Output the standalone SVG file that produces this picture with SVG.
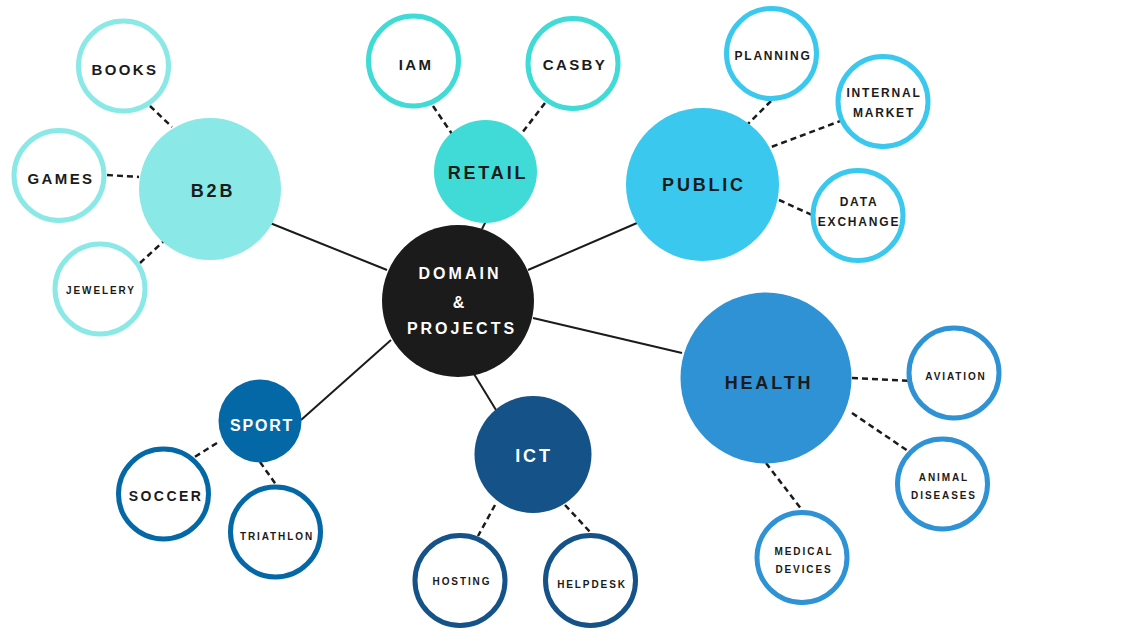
<svg xmlns="http://www.w3.org/2000/svg" width="1144" height="643" viewBox="0 0 1144 643">
<style>
text{font-family:"Liberation Sans",Arial,sans-serif;font-weight:bold;fill:#1b1b1b;text-anchor:middle;dominant-baseline:central}
.w{fill:#ffffff}
.big{font-size:18px;letter-spacing:2.8px}
.l15{font-size:15px;letter-spacing:2.4px}
.l12{font-size:12px;letter-spacing:1.8px}
.l10{font-size:10px;letter-spacing:1.9px}
.leaf{fill:#ffffff;stroke-width:5}
.solid{stroke:#1b1b1b;stroke-width:2;fill:none}
.dash{stroke:#1b1b1b;stroke-width:2.5;stroke-dasharray:6 4;fill:none}
</style>
<rect width="1144" height="643" fill="#ffffff"/>
<g id="connectors">
<line class="solid" x1="270" y1="223" x2="387" y2="270"/>
<line class="solid" x1="486" y1="221" x2="482" y2="229"/>
<line class="solid" x1="637" y1="223" x2="528" y2="270"/>
<line class="solid" x1="533" y1="318" x2="682" y2="353"/>
<line class="solid" x1="474" y1="374" x2="496" y2="410"/>
<line class="solid" x1="301" y1="420" x2="391" y2="340"/>
<line class="dash" x1="150" y1="106" x2="172" y2="127"/>
<line class="dash" x1="107" y1="175" x2="139" y2="177"/>
<line class="dash" x1="140" y1="263" x2="164" y2="241"/>
<line class="dash" x1="433" y1="106" x2="452" y2="134"/>
<line class="dash" x1="545" y1="103" x2="522" y2="133"/>
<line class="dash" x1="771" y1="101" x2="745" y2="127"/>
<line class="dash" x1="843" y1="120" x2="766" y2="149"/>
<line class="dash" x1="779" y1="200" x2="812" y2="215"/>
<line class="dash" x1="852" y1="378" x2="912" y2="381"/>
<line class="dash" x1="852" y1="413" x2="908" y2="451"/>
<line class="dash" x1="766" y1="463" x2="802" y2="510"/>
<line class="dash" x1="495" y1="505" x2="478" y2="536"/>
<line class="dash" x1="565" y1="505" x2="591" y2="533"/>
<line class="dash" x1="217" y1="443" x2="193" y2="458"/>
<line class="dash" x1="260" y1="462" x2="277" y2="486"/>
</g>
<g id="domain"><circle cx="458" cy="301" r="76" fill="#1b1b1b"/><text class="w" x="460" y="273" style="font-size:16px;letter-spacing:3px">DOMAIN</text><text class="w" x="460" y="302" style="font-size:16px;letter-spacing:3px">&amp;</text><text class="w" x="462" y="328" style="font-size:16px;letter-spacing:3px">PROJECTS</text></g>
<g id="b2b"><circle cx="210" cy="189" r="71" fill="#8ae8e6"/><text class="big" x="213" y="191">B2B</text></g>
<g id="books"><circle class="leaf" cx="123.5" cy="66" r="45" stroke="#8ae8e6"/><text class="l15" x="125" y="69">BOOKS</text></g>
<g id="games"><circle class="leaf" cx="59" cy="175.5" r="45" stroke="#8ae8e6"/><text class="l15" x="61" y="178">GAMES</text></g>
<g id="jewelery"><circle class="leaf" cx="100" cy="289" r="45" stroke="#8ae8e6"/><text class="l10" x="101" y="290">JEWELERY</text></g>
<g id="retail"><circle cx="485.5" cy="171.5" r="51.5" fill="#40dbd6"/><text class="big" x="488" y="173">RETAIL</text></g>
<g id="iam"><circle class="leaf" cx="413.5" cy="61" r="45" stroke="#40dbd6"/><text class="l15" x="416" y="64">IAM</text></g>
<g id="casby"><circle class="leaf" cx="573" cy="63.5" r="45" stroke="#40dbd6"/><text class="l15" x="575" y="64">CASBY</text></g>
<g id="public"><circle cx="702.5" cy="184.5" r="76.5" fill="#3ac8ee"/><text class="big" x="704" y="185">PUBLIC</text></g>
<g id="planning"><circle class="leaf" cx="771.5" cy="53.5" r="45" stroke="#3ac8ee"/><text class="l12" x="773" y="56">PLANNING</text></g>
<g id="internal-market"><circle class="leaf" cx="883" cy="101.5" r="45" stroke="#3ac8ee"/><text class="l12" x="884" y="93">INTERNAL</text><text class="l12" x="884" y="113">MARKET</text></g>
<g id="data-exchange"><circle class="leaf" cx="858" cy="215.5" r="45" stroke="#3ac8ee"/><text class="l12" x="859" y="202">DATA</text><text class="l12" x="859" y="222">EXCHANGE</text></g>
<g id="health"><circle cx="766" cy="378" r="85.5" fill="#2e92d5"/><text class="big" x="769" y="383">HEALTH</text></g>
<g id="aviation"><circle class="leaf" cx="954" cy="373" r="45" stroke="#2e92d5"/><text class="l10" x="956" y="376">AVIATION</text></g>
<g id="animal-diseases"><circle class="leaf" cx="942.5" cy="484" r="45" stroke="#2e92d5"/><text class="l10" x="944" y="477">ANIMAL</text><text class="l10" x="944" y="495">DISEASES</text></g>
<g id="medical-devices"><circle class="leaf" cx="802" cy="557.5" r="45" stroke="#2e92d5"/><text class="l10" x="804" y="551">MEDICAL</text><text class="l10" x="804" y="569">DEVICES</text></g>
<g id="ict"><circle cx="533" cy="454.5" r="58.5" fill="#155288"/><text class="big w" x="534" y="456">ICT</text></g>
<g id="hosting"><circle class="leaf" cx="460" cy="580.5" r="45" stroke="#155288"/><text class="l10" x="462" y="581">HOSTING</text></g>
<g id="helpdesk"><circle class="leaf" cx="590.5" cy="580.5" r="45" stroke="#155288"/><text class="l10" x="592" y="584">HELPDESK</text></g>
<g id="sport"><circle cx="260" cy="421" r="41.5" fill="#0568a6"/><text class="w" x="262" y="425" style="font-size:16px;letter-spacing:1.8px">SPORT</text></g>
<g id="soccer"><circle class="leaf" cx="163.5" cy="494" r="45" stroke="#0568a6"/><text class="l15" x="166" y="496" style="font-size:14px">SOCCER</text></g>
<g id="triathlon"><circle class="leaf" cx="275.5" cy="532" r="45" stroke="#0568a6"/><text class="l10" x="277" y="536">TRIATHLON</text></g>
</svg>
